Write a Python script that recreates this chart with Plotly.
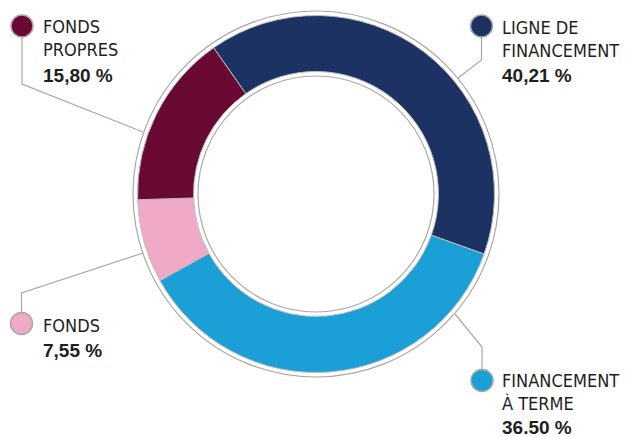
import plotly.graph_objects as go

W, H = 625, 437

labels = ["LIGNE DE FINANCEMENT", "FINANCEMENT À TERME", "FONDS", "FONDS PROPRES"]
values = [40.21, 36.50, 7.55, 15.80]
colors = ["#1b3263", "#1a9fd6", "#f0aac7", "#690933"]
label_lines = [["LIGNE DE", "FINANCEMENT"], ["FINANCEMENT", "À TERME"], ["FONDS"], ["FONDS", "PROPRES"]]
pct_text = ["40,21 %", "36.50 %", "7,55 %", "15,80 %"]

def px(x):
    return x / W

def py(y):
    return 1 - y / H

cx, cy = 316, 194
r_out = 178.5
hole = 0.686

fig = go.Figure(go.Pie(
    labels=labels, values=values, sort=False, direction="clockwise", rotation=-35,
    hole=hole, textinfo="none", hoverinfo="skip",
    marker=dict(colors=colors, line=dict(color="#bdbdbd", width=1)),
    domain=dict(x=[px(cx - r_out), px(cx + r_out)], y=[py(cy + r_out), py(cy - r_out)]),
    showlegend=False,
))

shapes = []
for r in (183, 118):
    shapes.append(dict(type="circle", xref="paper", yref="paper",
                       x0=px(cx - r), x1=px(cx + r), y0=py(cy + r), y1=py(cy - r),
                       line=dict(color="#a8a8a8", width=1.2)))

lay = [
    dict(m=(481.5, 26), path=[(481.5, 37), (481.5, 60), (458, 78)], tx=500, ys=[27.5, 50.5, 75]),
    dict(m=(482, 380.5), path=[(482, 369), (482, 347), (455, 314)], tx=500, ys=[380, 403.5, 427.5]),
    dict(m=(21.5, 323.5), path=[(21.5, 312), (21.5, 293), (143, 253)], tx=41, ys=[325, 350]),
    dict(m=(22, 26), path=[(22, 37), (22, 84), (143, 132)], tx=41, ys=[26.5, 50, 75]),
]

annotations = []
for i, L in enumerate(lay):
    pts = L["path"]
    d = "M " + " L ".join(f"{px(x)},{py(y)}" for x, y in pts)
    shapes.append(dict(type="path", xref="paper", yref="paper", path=d,
                       line=dict(color="#a8a8a8", width=1.2)))
    mx, my = L["m"]
    rm = 11
    shapes.append(dict(type="circle", xref="paper", yref="paper",
                       x0=px(mx - rm), x1=px(mx + rm), y0=py(my + rm), y1=py(my - rm),
                       fillcolor=colors[i], line=dict(color="#a8a8a8", width=1.5)))
    lines = label_lines[i] + [pct_text[i]]
    for j, t in enumerate(lines):
        bold = j == len(lines) - 1
        annotations.append(dict(
            xref="paper", yref="paper", x=px(L["tx"]), y=py(L["ys"][j]),
            xanchor="left", yanchor="middle", showarrow=False,
            text=f"<b>{t}</b>" if bold else t,
            font=dict(family="Liberation Sans" if bold else "DejaVu Sans Condensed",
                      size=19 if bold else 18, color="#1e1e1e"),
        ))

fig.update_layout(
    width=W, height=H, margin=dict(l=0, r=0, t=0, b=0),
    paper_bgcolor="white", plot_bgcolor="white",
    shapes=shapes, annotations=annotations,
)

fig.write_html("out.html", config={"displayModeBar": False},
               post_script="document.body.style.margin='0';")
